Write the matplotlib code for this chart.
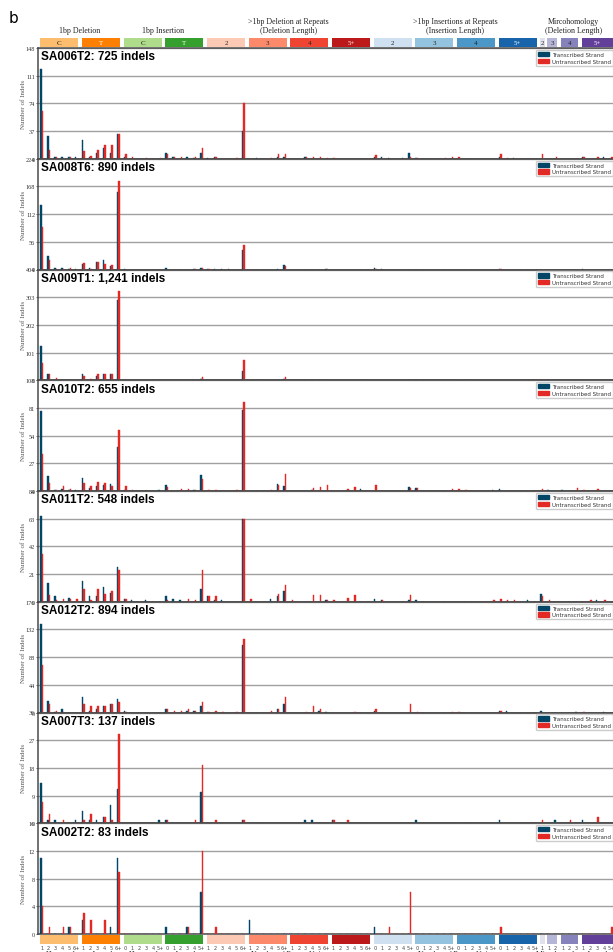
import matplotlib
matplotlib.use('Agg')
import matplotlib.pyplot as plt
import matplotlib.transforms as mtransforms
from matplotlib.patches import Rectangle, Patch
import numpy as np

# 样本信息
samples = ['SA006T2', 'SA008T6', 'SA009T1', 'SA010T2', 'SA011T2', 'SA012T2', 'SA007T3', 'SA002T2']
indel_counts = ['725', '890', '1,241', '655', '548', '894', '137', '83']
y_max = [148, 224, 404, 108, 84, 176, 36, 16]

# ID83 分组（12 组 × 6 + 微同源 1/2/3/5）
group_sizes = [6] * 12 + [1, 2, 3, 5]
group_top_labels = ['C', 'T', 'C', 'T', '2', '3', '4', '5+', '2', '3', '4', '5+', '2', '3', '4', '5+']
group_colors = [(253, 190, 111), (255, 128, 2), (176, 221, 139), (54, 161, 46),
                (253, 202, 181), (252, 138, 106), (241, 68, 50), (188, 25, 26),
                (208, 225, 242), (148, 196, 223), (74, 152, 201), (23, 100, 171),
                (226, 226, 239), (182, 182, 216), (134, 131, 189), (98, 64, 155)]
dark_groups = [1, 3, 7, 11, 15]
del_ticks = ['1', '2', '3', '4', '5', '6+']
ins_ticks = ['0', '1', '2', '3', '4', '5+']
mh_ticks = [['1'], ['1', '2'], ['1', '2', '3'], ['1', '2', '3', '4', '5+']]

# 每个样本：转录链 (T) / 非转录链 (U)
sa006t2_t = [120, 31, 3, 2, 3, 2,  25, 3, 8, 15, 8, 33,  3, 0, 0, 0, 0, 0,  8, 2, 0, 2, 1, 8,
             1, 2, 0, 0, 0, 37,  0, 1, 0, 0, 3, 3,  0, 0, 2, 0, 0, 0,  0, 0, 0, 0, 0, 0,
             3, 2, 1, 0, 1, 8,  1, 0, 0, 0, 0, 0,  0, 0, 0, 0, 0, 0,  3, 0, 1, 0, 0, 0,
             0, 0, 0, 0, 0, 0, 3, 0, 0, 2, 0]
sa006t2_u = [64, 12, 3, 0, 3, 0,  11, 4, 12, 19, 18, 33,  6, 3, 0, 1, 0, 1,  7, 2, 3, 0, 2, 15,
             0, 2, 0, 0, 1, 74,  0, 0, 0, 1, 6, 7,  0, 0, 2, 3, 2, 1,  1, 0, 0, 0, 0, 0,
             5, 0, 0, 0, 0, 3,  1, 0, 0, 0, 1, 2,  2, 0, 0, 0, 0, 0,  7, 1, 0, 0, 0, 0,
             6, 0, 2, 0, 0, 0, 2, 0, 2, 0, 2]

sa008t6_t = [131, 27, 4, 4, 1, 1,  12, 4, 16, 20, 8, 156,  1, 0, 0, 0, 0, 0,  3, 0, 0, 0, 1, 3,
             2, 2, 1, 1, 0, 39,  0, 0, 0, 0, 1, 9,  0, 0, 0, 0, 0, 1,  0, 0, 0, 0, 0, 0,
             3, 1, 0, 0, 0, 0,  0, 0, 0, 0, 0, 0,  0, 0, 0, 0, 0, 0,  1, 0, 0, 0, 0, 0,
             0, 0, 0, 0, 0, 0, 1, 0, 0, 0, 0]
sa008t6_u = [85, 20, 2, 1, 4, 0,  14, 1, 16, 12, 10, 180,  0, 0, 0, 0, 0, 0,  0, 0, 0, 0, 1, 3,
             1, 0, 0, 0, 0, 49,  0, 0, 0, 0, 0, 8,  0, 0, 0, 0, 0, 2,  0, 0, 0, 0, 0, 0,
             1, 0, 0, 0, 0, 0,  0, 0, 0, 0, 0, 0,  0, 0, 0, 0, 0, 0,  2, 0, 0, 0, 0, 0,
             0, 0, 0, 0, 0, 0, 0, 0, 0, 0, 0]

sa009t1_t = [125, 23, 2, 1, 2, 2,  21, 2, 17, 24, 24, 294,  2, 0, 0, 0, 0, 0,  0, 2, 0, 0, 1, 5,
             2, 1, 0, 0, 0, 35,  0, 0, 0, 0, 1, 6,  0, 0, 0, 0, 0, 1,  0, 0, 0, 0, 0, 0,
             0, 0, 0, 1, 0, 1,  0, 0, 0, 0, 0, 0,  1, 0, 0, 0, 0, 0,  0, 0, 0, 0, 0, 0,
             0, 0, 1, 0, 0, 0, 1, 0, 0, 0, 0]
sa009t1_u = [63, 23, 8, 1, 2, 2,  17, 5, 21, 21, 21, 325,  0, 0, 0, 0, 0, 0,  2, 0, 0, 0, 1, 13,
             1, 0, 0, 0, 0, 74,  0, 0, 0, 0, 1, 13,  0, 0, 0, 0, 0, 0,  0, 1, 0, 0, 0, 0,
             0, 0, 0, 0, 0, 0,  0, 0, 0, 0, 0, 0,  0, 0, 0, 0, 0, 0,  0, 0, 0, 0, 0, 0,
             0, 0, 0, 0, 0, 0, 0, 0, 0, 0, 2]

sa010t2_t = [78, 15, 1, 2, 1, 1,  13, 3, 5, 6, 7, 43,  1, 0, 0, 0, 0, 1,  6, 0, 0, 0, 1, 16,
             0, 0, 0, 0, 0, 79,  0, 0, 0, 0, 7, 5,  0, 0, 0, 1, 0, 0,  0, 0, 0, 0, 2, 0,
             0, 0, 0, 0, 0, 4,  3, 0, 0, 0, 0, 0,  0, 0, 0, 0, 0, 1,  2, 0, 0, 0, 0, 0,
             0, 1, 0, 1, 0, 0, 0, 0, 0, 0, 0]
sa010t2_u = [36, 8, 1, 5, 2, 0,  8, 5, 9, 8, 5, 59,  5, 1, 0, 0, 0, 0,  4, 0, 2, 2, 1, 12,
             1, 1, 0, 0, 1, 87,  0, 0, 0, 1, 6, 17,  0, 0, 0, 3, 4, 6,  0, 0, 2, 4, 0, 0,
             6, 0, 0, 0, 0, 3,  3, 0, 0, 0, 0, 2,  2, 1, 0, 0, 0, 0,  0, 0, 0, 0, 0, 0,
             2, 0, 0, 0, 0, 3, 1, 0, 2, 0, 0]

sa011t2_t = [65, 14, 4, 0, 3, 0,  16, 4, 4, 11, 7, 26,  2, 1, 0, 1, 0, 0,  4, 2, 1, 0, 0, 10,
             4, 1, 1, 0, 0, 63,  0, 0, 0, 2, 4, 8,  0, 0, 0, 0, 0, 1,  0, 0, 0, 0, 0, 0,
             2, 1, 0, 0, 0, 1,  1, 0, 0, 0, 0, 0,  0, 0, 0, 0, 0, 0,  0, 0, 0, 0, 1, 0,
             6, 0, 0, 0, 0, 0, 0, 0, 1, 0, 0]
sa011t2_u = [36, 5, 1, 2, 2, 2,  10, 1, 10, 6, 8, 24,  2, 0, 0, 0, 0, 0,  1, 0, 0, 2, 1, 24,
             4, 4, 0, 0, 0, 63,  2, 0, 0, 0, 6, 13,  1, 0, 0, 5, 5, 1,  1, 0, 3, 5, 0, 0,
             0, 1, 0, 0, 0, 5,  0, 0, 0, 0, 0, 0,  0, 0, 0, 0, 0, 1,  2, 1, 1, 0, 0, 0,
             4, 1, 0, 0, 0, 0, 0, 1, 0, 1, 0]

sa012t2_t = [140, 19, 1, 5, 0, 0,  25, 3, 6, 10, 13, 21,  3, 0, 0, 0, 0, 0,  6, 0, 0, 3, 2, 11,
             1, 0, 0, 0, 0, 108,  0, 0, 0, 0, 6, 14,  0, 0, 0, 0, 3, 1,  0, 0, 0, 0, 0, 0,
             3, 0, 0, 0, 0, 0,  0, 0, 0, 0, 0, 0,  0, 0, 0, 0, 0, 0,  3, 3, 0, 0, 0, 0,
             3, 0, 0, 0, 0, 1, 0, 0, 0, 1, 0]
sa012t2_u = [75, 13, 3, 1, 0, 0,  13, 10, 10, 10, 13, 16,  1, 0, 0, 0, 0, 0,  6, 3, 3, 6, 3, 16,
             1, 3, 1, 0, 1, 117,  0, 0, 0, 3, 6, 24,  0, 0, 1, 10, 6, 0,  0, 0, 0, 1, 0, 0,
             5, 0, 0, 0, 0, 13,  1, 0, 0, 0, 0, 1,  1, 0, 0, 0, 0, 0,  3, 0, 0, 0, 0, 0,
             0, 0, 0, 0, 0, 0, 1, 0, 0, 0, 0]

sa007t3_t = [13, 1, 1, 0, 0, 1,  4, 1, 1, 2, 6, 11,  0, 0, 0, 0, 0, 1,  1, 0, 0, 0, 0, 10,
             0, 0, 0, 0, 0, 1,  0, 0, 0, 0, 0, 0,  0, 0, 1, 1, 0, 0,  1, 0, 0, 0, 0, 0,
             0, 0, 0, 0, 0, 0,  1, 0, 0, 0, 0, 0,  0, 0, 0, 0, 0, 0,  1, 0, 0, 0, 0, 0,
             0, 0, 1, 0, 0, 0, 1, 0, 0, 0, 0]
sa007t3_u = [7, 3, 0, 1, 0, 0,  1, 3, 0, 2, 1, 29,  0, 0, 0, 0, 0, 0,  1, 0, 0, 0, 1, 19,
             0, 1, 0, 0, 0, 1,  0, 0, 0, 0, 0, 0,  0, 0, 0, 0, 0, 0,  1, 0, 1, 0, 0, 0,
             0, 0, 0, 0, 0, 0,  0, 0, 0, 0, 0, 0,  0, 0, 0, 0, 0, 0,  0, 0, 0, 0, 0, 0,
             1, 0, 0, 0, 1, 0, 0, 0, 2, 0, 0]

sa002t2_t = [11, 0, 0, 0, 1, 0,  2, 0, 0, 0, 1, 11,  0, 0, 0, 0, 0, 0,  1, 0, 0, 1, 0, 6,
             0, 0, 0, 0, 0, 0,  2, 0, 0, 0, 0, 0,  0, 0, 0, 0, 0, 0,  0, 0, 0, 0, 0, 0,
             1, 0, 0, 0, 0, 0,  0, 0, 0, 0, 0, 0,  0, 0, 0, 0, 0, 0,  0, 0, 0, 0, 0, 0,
             0, 0, 0, 0, 0, 0, 0, 0, 0, 0, 0]
sa002t2_u = [4, 1, 0, 1, 1, 0,  3, 2, 0, 2, 0, 9,  0, 0, 0, 0, 0, 0,  0, 0, 0, 1, 0, 12,
             0, 1, 0, 0, 0, 0,  0, 0, 0, 0, 0, 0,  0, 0, 0, 0, 0, 0,  0, 0, 0, 0, 0, 0,
             0, 0, 1, 0, 0, 6,  0, 0, 0, 0, 0, 0,  0, 0, 0, 0, 0, 0,  1, 0, 0, 0, 0, 0,
             0, 0, 0, 0, 0, 0, 0, 0, 0, 0, 1]

transcribed = [sa006t2_t, sa008t6_t, sa009t1_t, sa010t2_t, sa011t2_t, sa012t2_t, sa007t3_t, sa002t2_t]
untranscribed = [sa006t2_u, sa008t6_u, sa009t1_u, sa010t2_u, sa011t2_u, sa012t2_u, sa007t3_u, sa002t2_u]

T_COL = (1 / 256, 70 / 256, 102 / 256)
U_COL = (228 / 256, 41 / 256, 38 / 256)
SERIF = 'Liberation Serif'

W, H = 613, 953
fig = plt.figure(figsize=(W / 100, H / 100), dpi=100)


def fy(px):
    return 1 - px / H


n_ch = 83
left_px = 38.3
ch_px = 6.945
panel_top = 49
panel_h = 110.75
x = np.arange(n_ch)

axes = []
for i in range(len(samples)):
    bottom_px = panel_top + (i + 1) * panel_h
    ax = fig.add_axes([left_px / W, fy(bottom_px), n_ch * ch_px / W, panel_h / H])
    ax.bar(x + 0.4, transcribed[i], 0.2, color=T_COL, edgecolor=T_COL, linewidth=0.3, zorder=3)
    ax.bar(x + 0.6, untranscribed[i], 0.2, color=U_COL, edgecolor=U_COL, linewidth=0.3, zorder=3)
    ax.set_xlim(0, n_ch)
    ax.set_ylim(0, y_max[i])
    ticks = np.linspace(0, y_max[i], 5)
    ax.set_yticks(ticks)
    ax.set_yticklabels([str(int(round(t))) for t in ticks], fontsize=4.5, family=SERIF, color='#333333')
    ax.set_xticks([])
    ax.tick_params(axis='y', length=1.5, pad=0.8, width=0.6, color='#555555')
    ax.yaxis.grid(True, color='#a0a0a0', linewidth=1.0)
    ax.set_axisbelow(True)
    for s in ['left', 'bottom', 'top']:
        ax.spines[s].set_color('#4a4a4a')
        ax.spines[s].set_linewidth(1.1)
    ax.spines['right'].set_visible(False)
    ax.set_ylabel('Number of Indels', fontsize=5, family=SERIF, color='#555555')
    ax.yaxis.set_label_coords(-0.021, 0.5)
    ax.annotate(samples[i] + ': ' + indel_counts[i] + ' indels', xy=(0, 1), xycoords='axes fraction',
                xytext=(2.4, -11.3), textcoords='offset pixels', va='baseline', ha='left',
                fontsize=8.5, fontweight='bold', family='Liberation Sans', color='black')
    leg = ax.legend(handles=[Patch(color=T_COL, label='Transcribed Strand'),
                             Patch(color=U_COL, label='Untranscribed Strand')],
                    loc='upper right', bbox_to_anchor=(0.997, 0.982), borderaxespad=0,
                    prop={'family': 'DejaVu Sans', 'size': 4}, handlelength=2.0, handleheight=0.8,
                    labelspacing=0.3, borderpad=0.35, handletextpad=0.6, framealpha=1,
                    edgecolor='#cccccc', fancybox=True)
    for t in leg.get_texts():
        t.set_color('#333333')
    axes.append(ax)

# 顶部与底部的分类色块
trans = mtransforms.blended_transform_factory(axes[0].transData, fig.transFigure)
start = 0
for gi, n in enumerate(group_sizes):
    col = tuple(c / 256 for c in group_colors[gi])
    w = n - 0.55 if n > 1 else 0.68
    for top_px, h_px in [(48.3, 9.3), (944.7, 8.7)]:
        fig.add_artist(Rectangle((start + 0.3, fy(top_px)), w, h_px / H, transform=trans,
                                 facecolor=col, edgecolor='none'))
    fc = 'white' if gi in dark_groups else '#222222'
    fig.text(start + 0.3 + w / 2, fy(43.8), group_top_labels[gi], transform=trans, ha='center', va='center',
             fontsize=5, family=SERIF, color=fc)
    if n == 6:
        labs = del_ticks if gi in (0, 1, 4, 5, 6, 7) else ins_ticks
    else:
        labs = mh_ticks[gi - 12]
    for j, lab in enumerate(labs):
        fig.text(start + j + 0.5, fy(948.3), lab, transform=trans, ha='center', va='center',
                 fontsize=3.6, color='#444444')
    start += n

# 顶部分类标题
headers = [(6.0, ['1bp Deletion']), (18.0, ['1bp Insertion']),
           (36.0, ['>1bp Deletion at Repeats', '(Deletion Length)']),
           (60.0, ['>1bp Insertions at Repeats', '(Insertion Length)']),
           (77.0, ['Mircohomology', '(Deletion Length)'])]
for xc, lines in headers:
    ys = [30.7] if len(lines) == 1 else [22.3, 30.7]
    for line, ypx in zip(lines, ys):
        fig.text(xc, fy(ypx), line, transform=trans, ha='center', va='center',
                 fontsize=5.7, family=SERIF, color='#222222')

# 底部（被裁切的）轴说明
for xc, s in [(6.0, 'Homopolymer Length'), (18.0, 'Homopolymer Length'),
              (36.0, 'Number of Repeat Units'), (60.0, 'Number of Repeat Units'),
              (77.0, 'Microhomology Length')]:
    fig.text(xc, fy(950.8), s, transform=trans, ha='center', va='top',
             fontsize=5.5, family=SERIF, color='#222222')

fig.text(9 / W, fy(22.7), 'b', fontsize=11, va='baseline', ha='left', family='DejaVu Sans')

fig.savefig('out.png', dpi=100)
